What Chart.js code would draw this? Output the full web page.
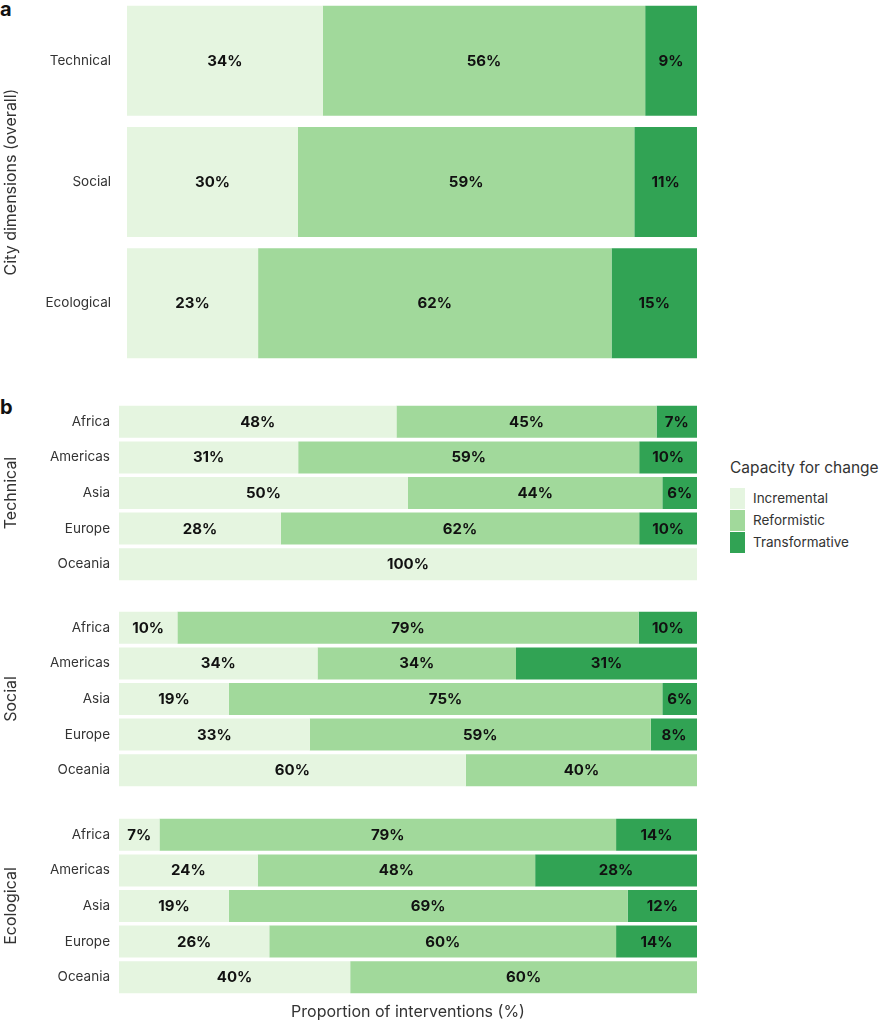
<!DOCTYPE html>
<html>
<head>
<meta charset="utf-8">
<script src="https://cdn.jsdelivr.net/npm/chart.js@4.4.1/dist/chart.umd.min.js"></script>
<style>
    body { margin: 0; background: #fff; font-family: Inter, sans-serif; }
    #wrap { position: relative; width: 880px; height: 1024px; overflow: hidden; }
    canvas { position: absolute; left: 0; }
    .panel { position: absolute; left: 0; font-weight: 700; font-size: 20px; color: #111; line-height: 1; }
    #legend { position: absolute; left: 730px; top: 458px; color: #333; white-space: nowrap; }
    #legend .title { font-size: 15.5px; line-height: 20px; margin-bottom: 9px; }
    #legend .item { display: flex; align-items: center; height: 22px; font-size: 13.5px; }
    #legend .sw { width: 15px; height: 21px; margin-right: 8px; }
</style>
</head>
<body>
<div id="wrap">
    <div class="panel" style="top:-1px">a</div>
    <div class="panel" style="top:397px">b</div>
    <canvas id="overallChart" width="697" height="364" style="top:0"></canvas>
    <canvas id="technicalChart" width="697" height="178" style="top:404px"></canvas>
    <canvas id="socialChart" width="697" height="178" style="top:610px"></canvas>
    <canvas id="ecologicalChart" width="697" height="205" style="top:817px"></canvas>
    <div id="legend"></div>
</div>
<script>
const dimensions = ['Technical', 'Social', 'Ecological'];
const regions = ['Africa', 'Americas', 'Asia', 'Europe', 'Oceania'];
const capacityLabels = ['Incremental', 'Reformistic', 'Transformative'];
const capacityColors = ['#e5f5e0', '#a1d99b', '#31a354'];

// a: city dimensions overall
const overallIncremental = [34, 30, 23];
const overallReformistic = [56, 59, 62];
const overallTransformative = [9, 11, 15];

// b: by region
const technicalIncremental = [48, 31, 50, 28, 100];
const technicalReformistic = [45, 59, 44, 62, 0];
const technicalTransformative = [7, 10, 6, 10, 0];

const socialIncremental = [10, 34, 19, 33, 60];
const socialReformistic = [79, 34, 75, 59, 40];
const socialTransformative = [10, 31, 6, 8, 0];

const ecologicalIncremental = [7, 24, 19, 26, 40];
const ecologicalReformistic = [79, 48, 69, 60, 60];
const ecologicalTransformative = [14, 28, 12, 14, 0];

Chart.defaults.font.family = 'Inter, sans-serif';
Chart.defaults.color = '#333';

// rounded labels don't always add up to 100, so bars use the share of the row total
const toShares = (series) => series.map(vals =>
    vals.map((v, i) => v / series.reduce((s, row) => s + row[i], 0) * 100));

const segmentLabels = {
    id: 'segmentLabels',
    afterDatasetsDraw(chart) {
        const ctx = chart.ctx;
        ctx.save();
        ctx.font = '700 15px Inter, sans-serif';
        ctx.fillStyle = '#111';
        ctx.textAlign = 'center';
        ctx.textBaseline = 'middle';
        chart.data.datasets.forEach((ds, i) => {
            chart.getDatasetMeta(i).data.forEach((bar, j) => {
                const v = ds.shown[j];
                if (!v) return;
                ctx.fillText(v + '%', (bar.x + bar.base) / 2, bar.y + 0.5);
            });
        });
        ctx.restore();
    }
};

const stackedChart = (id, labels, series, axisTitle, cfg) => {
    const shares = toShares(series);
    return new Chart(document.getElementById(id), {
        type: 'bar',
        data: {
            labels: labels,
            datasets: series.map((vals, k) => ({
                label: capacityLabels[k],
                data: shares[k],
                shown: vals,
                backgroundColor: capacityColors[k],
                borderWidth: 0,
                barPercentage: cfg.barPct,
                categoryPercentage: 1
            }))
        },
        options: {
            indexAxis: 'y',
            responsive: false,
            animation: false,
            layout: { padding: cfg.padding },
            plugins: {
                legend: { display: false },
                tooltip: { enabled: false }
            },
            scales: {
                x: {
                    stacked: true,
                    min: 0,
                    max: 100,
                    display: !!cfg.xTitle,
                    grid: { display: false, drawTicks: false },
                    border: { display: false },
                    ticks: { display: false },
                    title: {
                        display: !!cfg.xTitle,
                        text: cfg.xTitle,
                        color: '#333',
                        font: { size: 16 },
                        padding: 0
                    },
                    afterFit: (scale) => { scale.height = cfg.xTitle ? 27 : 0; }
                },
                y: {
                    stacked: true,
                    grid: { display: false, drawTicks: false },
                    border: { display: false },
                    ticks: { padding: cfg.tickPad, color: '#333', font: { size: 13.5 } },
                    title: {
                        display: true,
                        text: axisTitle,
                        color: '#333',
                        font: { size: 16 },
                        padding: { top: 2, bottom: 0 }
                    },
                    afterFit: (scale) => {
                        scale.width = cfg.yWidth;
                        scale.paddingTop = 0;
                        scale.paddingBottom = 0;
                    }
                }
            }
        },
        plugins: [segmentLabels]
    });
};

stackedChart('overallChart', dimensions,
    [overallIncremental, overallReformistic, overallTransformative],
    'City dimensions (overall)',
    { barPct: 110 / 121.3, padding: 0, tickPad: 16, yWidth: 127 });

stackedChart('technicalChart', regions,
    [technicalIncremental, technicalReformistic, technicalTransformative],
    'Technical',
    { barPct: 0.9, padding: 0, tickPad: 9, yWidth: 119 });

stackedChart('socialChart', regions,
    [socialIncremental, socialReformistic, socialTransformative],
    'Social',
    { barPct: 0.9, padding: 0, tickPad: 9, yWidth: 119 });

stackedChart('ecologicalChart', regions,
    [ecologicalIncremental, ecologicalReformistic, ecologicalTransformative],
    'Ecological',
    { barPct: 0.9, padding: 0, tickPad: 9, yWidth: 119, xTitle: 'Proportion of interventions (%)' });

// legend
const legend = document.getElementById('legend');
legend.innerHTML = '<div class="title">Capacity for change</div>' +
    capacityLabels.map((name, k) =>
        `<div class="item"><span class="sw" style="background:${capacityColors[k]}"></span>${name}</div>`).join('');
</script>
</body>
</html>
